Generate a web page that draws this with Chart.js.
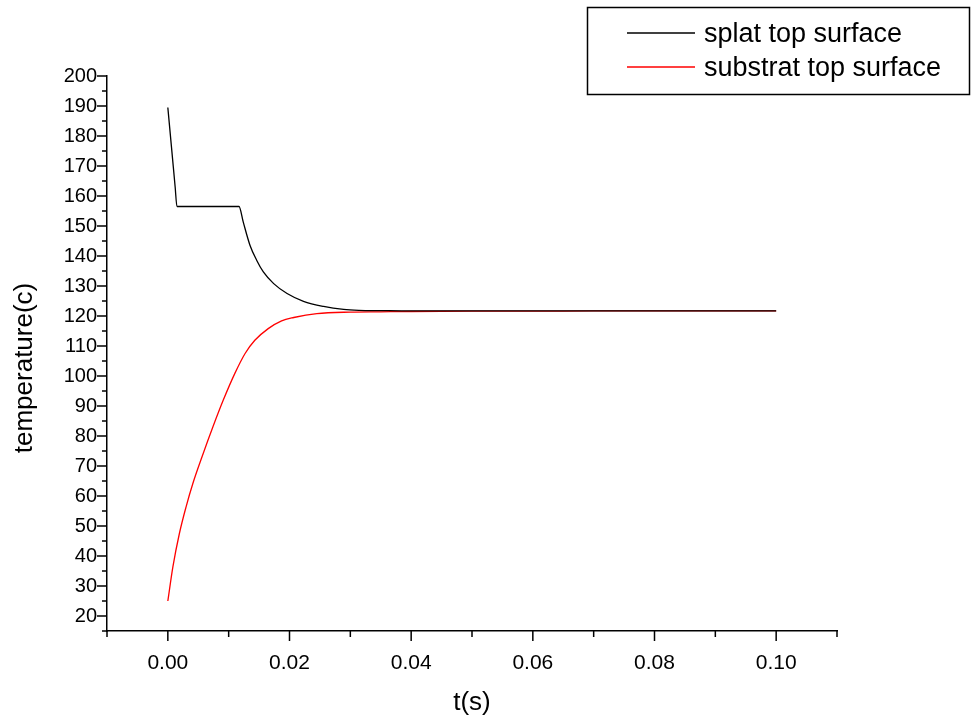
<!DOCTYPE html>
<html>
<head>
<meta charset="utf-8">
<script src="https://cdn.jsdelivr.net/npm/chart.js@4.4.1/dist/chart.umd.min.js"></script>
<style>
  html, body { margin: 0; padding: 0; background: #fff; }
  #wrap { width: 971px; height: 717px; position: relative; }
</style>
</head>
<body>
<div id="wrap"><canvas id="chart"></canvas></div>
<script>
// ── Dados ────
const T_SPLAT = [0, 0.0006, 0.0012, 0.0015, 0.0117, 0.0124, 0.0135, 0.0146, 0.0157, 0.0174, 0.0196, 0.0223, 0.0256, 0.0289, 0.0314, 0.035, 0.04, 0.05, 0.06, 0.07, 0.08, 0.09, 0.10];
const SPLAT = [189.5, 176.3, 163.1, 156.5, 156.5, 151.3, 143.6, 138.6, 134.7, 130.8, 127.5, 124.9, 123.2, 122.2, 121.9, 121.8, 121.7, 121.7, 121.7, 121.7, 121.7, 121.7, 121.7];

const T_SUBSTRAT = [0, 0.00083, 0.0019, 0.0030, 0.0041, 0.0058, 0.0074, 0.0091, 0.0110, 0.0127, 0.0143, 0.0165, 0.0187, 0.0207, 0.0245, 0.030, 0.035, 0.04, 0.05, 0.06, 0.07, 0.08, 0.09, 0.10];
const SUBSTRAT = [25, 36.4, 47.5, 56.4, 64.1, 74.1, 83.0, 91.9, 100.8, 107.5, 111.9, 115.8, 118.4, 119.5, 120.8, 121.3, 121.4, 121.5, 121.6, 121.6, 121.7, 121.7, 121.7, 121.7];

const X_TICKS = [0, 0.02, 0.04, 0.06, 0.08, 0.10];
const Y_TICKS = [20, 30, 40, 50, 60, 70, 80, 90, 100, 110, 120, 130, 140, 150, 160, 170, 180, 190, 200];
const LABELS = ['splat top surface', 'substrat top surface'];
const CORES = ['#000000', '#ff0000'];
const TITULO_Y = 'temperature(c)';

const FONTE = "'Liberation Sans', Arial, sans-serif";
Chart.defaults.font.family = FONTE;
Chart.defaults.color = '#000';

// ── Marcas de escala (maiores e menores, para fora) ────
const marcasPlugin = {
    id: 'marcas',
    afterDraw(chart) {
        const { ctx, scales: { x, y } } = chart;
        const base = y.bottom;
        const esq = x.left;
        const xMenores = X_TICKS.map(v => v - 0.01).concat([X_TICKS[X_TICKS.length - 1] + 0.01]);
        const yMenores = Y_TICKS.map(v => v - 5);
        ctx.save();
        ctx.strokeStyle = '#000';
        ctx.lineWidth = 1.5;
        ctx.beginPath();
        X_TICKS.forEach(v => { const px = x.getPixelForValue(v); ctx.moveTo(px, base); ctx.lineTo(px, base + 10); });
        xMenores.forEach(v => { const px = x.getPixelForValue(v); ctx.moveTo(px, base); ctx.lineTo(px, base + 6); });
        Y_TICKS.forEach(v => { const py = y.getPixelForValue(v); ctx.moveTo(esq, py); ctx.lineTo(esq - 10, py); });
        yMenores.forEach(v => { const py = y.getPixelForValue(v); ctx.moveTo(esq, py); ctx.lineTo(esq - 5, py); });
        ctx.stroke();

        // título do eixo y (um pouco abaixo do centro, como no original)
        ctx.font = `26px ${FONTE}`;
        ctx.fillStyle = '#000';
        ctx.textAlign = 'center';
        ctx.textBaseline = 'middle';
        ctx.translate(25, 368);
        ctx.rotate(-Math.PI / 2);
        ctx.fillText(TITULO_Y, 0, 0);
        ctx.restore();
    }
};

// ── Legenda em caixa ────
const legendaPlugin = {
    id: 'legendaCaixa',
    afterDraw(chart) {
        const ctx = chart.ctx;
        ctx.save();
        ctx.strokeStyle = '#000';
        ctx.lineWidth = 1.5;
        ctx.strokeRect(587.5, 7.5, 382, 87);
        ctx.font = `27px ${FONTE}`;
        ctx.textBaseline = 'middle';
        ctx.fillStyle = '#000';
        chart.data.datasets.forEach((ds, i) => {
            const yy = 33 + i * 34;
            ctx.strokeStyle = ds.borderColor;
            ctx.lineWidth = 1.3;
            ctx.beginPath();
            ctx.moveTo(627, yy);
            ctx.lineTo(695, yy);
            ctx.stroke();
            ctx.fillText(ds.label, 704, yy + 2);
        });
        ctx.restore();
    }
};

// ── Gráfico ───
new Chart(document.getElementById('chart'), {
    type: 'scatter',
    data: {
        datasets: [
            {
                label: LABELS[0],
                data: T_SPLAT.map((t, i) => ({ x: t, y: SPLAT[i] })),
                showLine: true,
                borderColor: CORES[0],
                borderWidth: 1.3,
                pointRadius: 0,
                cubicInterpolationMode: 'monotone',
            },
            {
                label: LABELS[1],
                data: T_SUBSTRAT.map((t, i) => ({ x: t, y: SUBSTRAT[i] })),
                showLine: true,
                borderColor: CORES[1],
                borderWidth: 1.3,
                pointRadius: 0,
                cubicInterpolationMode: 'monotone',
            }
        ]
    },
    options: {
        responsive: true,
        maintainAspectRatio: false,
        animation: false,
        layout: { padding: { top: 76, right: 134, left: 0, bottom: 0 } },
        plugins: { legend: { display: false }, tooltip: { enabled: false } },
        scales: {
            x: {
                type: 'linear',
                min: -0.01,
                max: 0.11,
                afterBuildTicks: s => { s.ticks = X_TICKS.map(v => ({ value: v })); },
                afterFit: s => { s.height = 86; },
                grid: { display: false, drawTicks: false },
                border: { color: '#000', width: 1.5 },
                ticks: { padding: 20, font: { size: 21 }, color: '#000', maxRotation: 0, autoSkip: false, callback: v => v.toFixed(2) },
                title: { display: true, text: 't(s)', font: { size: 26, lineHeight: 1 }, color: '#000', padding: { top: 0, bottom: 1 } }
            },
            y: {
                min: 15,
                max: 200,
                afterBuildTicks: s => { s.ticks = Y_TICKS.map(v => ({ value: v })); },
                afterFit: s => { s.width = 107; },
                grid: { display: false, drawTicks: false },
                border: { color: '#000', width: 1.5 },
                ticks: { padding: 10, font: { size: 20 }, color: '#000', autoSkip: false }
            }
        }
    },
    plugins: [marcasPlugin, legendaPlugin]
});
</script>
</body>
</html>
